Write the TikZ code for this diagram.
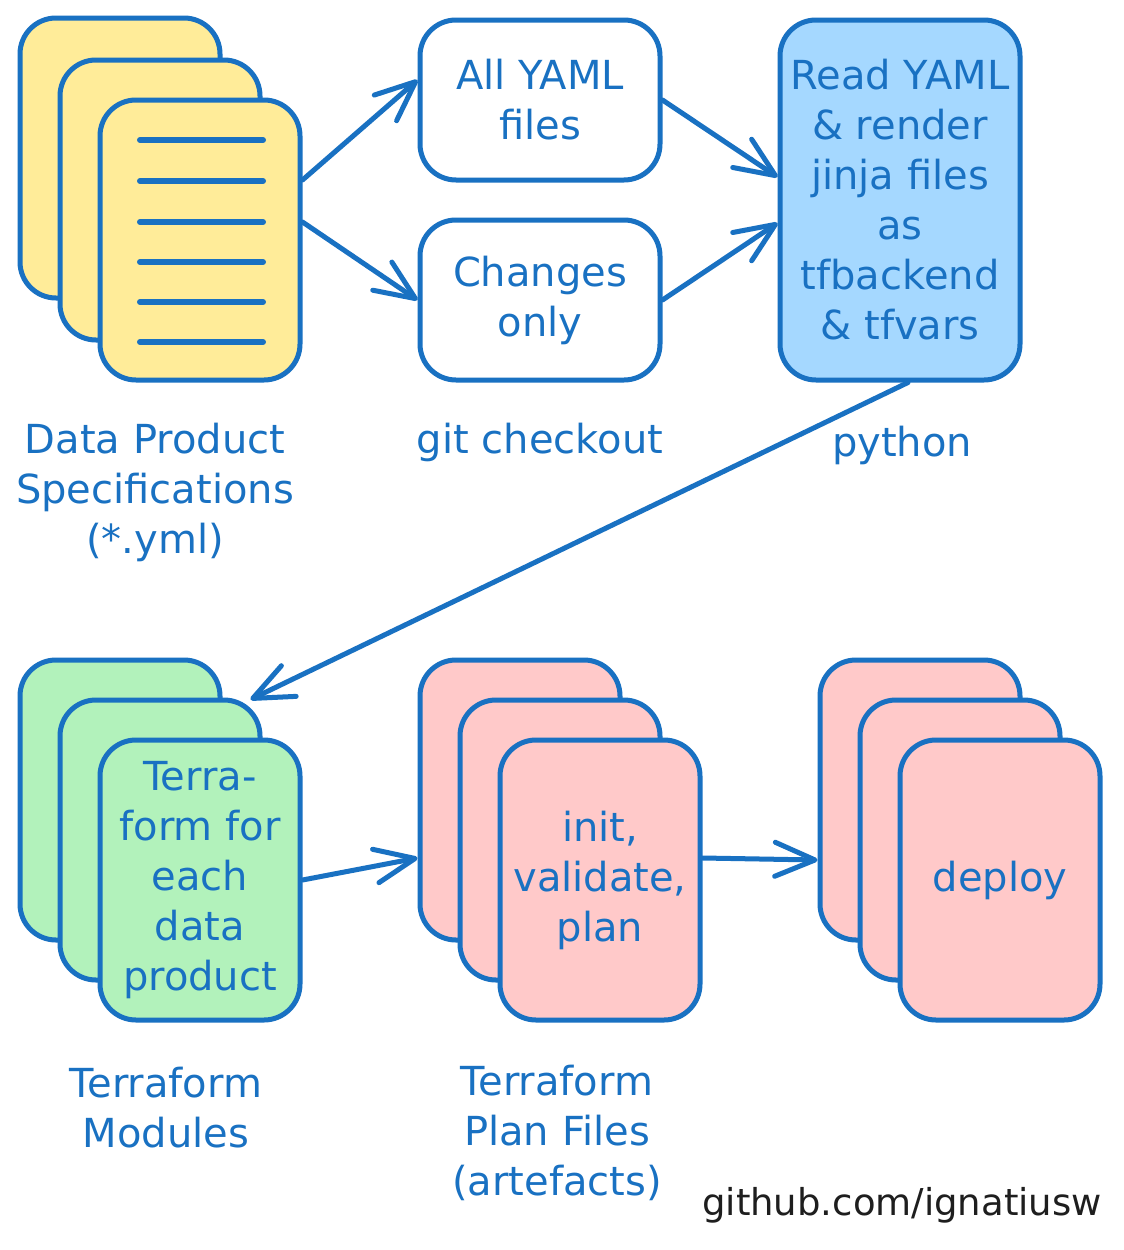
\documentclass[tikz,border=0pt]{standalone}
\usepackage{fontspec}
\setmainfont{DejaVu Sans}
\usetikzlibrary{arrows.meta}
\definecolor{stroke}{HTML}{1971C2}
\definecolor{yel}{HTML}{FFEC99}
\definecolor{blu}{HTML}{A5D8FF}
\definecolor{grn}{HTML}{B2F2BB}
\definecolor{pnk}{HTML}{FFC9C9}
\definecolor{ink}{HTML}{1E1E1E}
\tikzset{
  card/.style={draw=stroke, line width=5pt, rounded corners=36pt,
    minimum width=200pt, minimum height=280pt, inner sep=0pt,
    text=stroke, align=center, font=\fontsize{40}{50}\selectfont},
  box/.style={draw=stroke, line width=5pt, rounded corners=36pt,
    minimum width=240pt, minimum height=160pt, inner sep=0pt, fill=white,
    text=stroke, align=center, font=\fontsize{40}{50}\selectfont},
  lbl/.style={text=stroke, align=center, inner sep=0pt,
    font=\fontsize{40}{50}\selectfont},
  arr/.style={draw=stroke, line width=5pt, line cap=round,
    -{Straight Barb[length=40pt,width=34pt,round]}},
  docline/.style={draw=stroke, line width=6pt, line cap=round}
}
\begin{document}
\begin{tikzpicture}[x=1pt,y=-1pt]
\useasboundingbox[fill=white] (0,0) rectangle (1124,1250);
% Data product specifications stack
\node[card, fill=yel] (s1) at (120,158) {};
\node[card, fill=yel] (s2) at (160,200) {};
\node[card, fill=yel] (s3) at (200,240) {};
\foreach \yy in {140,181,222,262,302,342}
  \draw[docline] (140,\yy) -- (263,\yy);
% git checkout boxes
\node[box] (all) at (540,100) {All YAML\\files};
\node[box] (chg) at (540,300) {Changes\\only};
% python box
\node[box, fill=blu, minimum width=240pt, minimum height=360pt] (read) at (900,200)
  {Read YAML\\\& render\\jinja files\\as\\tfbackend\\\& tfvars};
% labels top row
\node[lbl] (lspec) at (155,492) {Data Product\\Specifications\\(*.yml)};
\node[lbl] (lgit) at (540,442) {git checkout};
\node[lbl] (lpy) at (902,445) {python};
% Terraform modules stack
\node[card, fill=grn] (t1) at (120,800) {};
\node[card, fill=grn] (t2) at (160,840) {};
\node[card, fill=grn] (t3) at (200,880) {Terra-\\form for\\each\\data\\product};
% plan stack
\node[card, fill=pnk] (p1) at (520,800) {};
\node[card, fill=pnk] (p2) at (560,840) {};
\node[card, fill=pnk] (p3) at (600,880) {init,\\validate,\\plan};
% deploy stack
\node[card, fill=pnk] (d1) at (920,800) {};
\node[card, fill=pnk] (d2) at (960,840) {};
\node[card, fill=pnk] (d3) at (1000,880) {deploy};
% bottom labels
\node[lbl] (lmod) at (166,1108) {Terraform\\Modules};
\node[lbl] (lplan) at (557,1133) {Terraform\\Plan Files\\(artefacts)};
\node[lbl, text=ink, font=\fontsize{37}{46}\selectfont, anchor=east] (lgh) at (1102,1205) {github.com/ignatiusw};
% connectors
\draw[arr] ([yshift=60pt]s3.east) -- ([yshift=20pt]all.west);
\draw[arr] ([yshift=18pt]s3.east) -- (chg.west);
\draw[arr] (all.east) -- ([yshift=23pt]read.west);
\draw[arr] (chg.east) -- ([yshift=-23pt]read.west);
\draw[arr] ([xshift=8pt]read.south) -- ([xshift=-12pt,yshift=-2pt]t2.north east);
\draw[arr] (t3.east) -- ([yshift=-58pt]p1.west);
\draw[arr] ([yshift=22pt]p3.east) -- ([yshift=-60pt]d1.west);
\end{tikzpicture}
\end{document}
